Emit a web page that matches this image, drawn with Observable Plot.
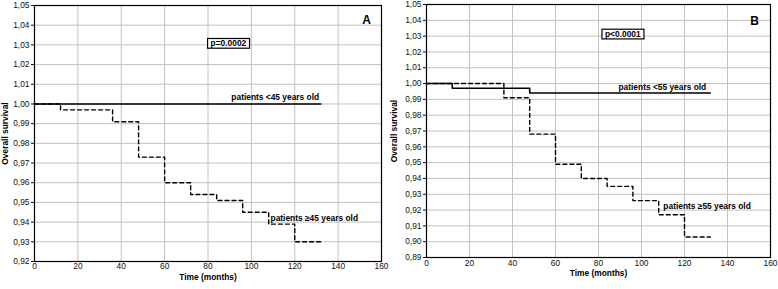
<!DOCTYPE html>
<html><head><meta charset="utf-8">
<script src="https://cdn.jsdelivr.net/npm/d3@7"></script>
<script src="https://cdn.jsdelivr.net/npm/@observablehq/plot@0.6"></script>
<style>
body{margin:0;background:#fff}
#wrap{display:flex;width:778px;height:289px;overflow:hidden}
#wrap svg{display:block}
</style></head><body><div id="wrap"></div>
<script>
// ---- axes ticks ----
const xTicks = [0, 20, 40, 60, 80, 100, 120, 140, 160];
const yTicksA = [0.92, 0.93, 0.94, 0.95, 0.96, 0.97, 0.98, 0.99, 1.00, 1.01, 1.02, 1.03, 1.04, 1.05];
const yTicksB = [0.89, 0.90, 0.91, 0.92, 0.93, 0.94, 0.95, 0.96, 0.97, 0.98, 0.99, 1.00, 1.01, 1.02, 1.03, 1.04, 1.05];

// ---- panel A: age 45 ----
const timeA_young = [0, 132];
const survA_young = [1.000, 1.000];
const timeA_old = [0, 12, 36, 48, 60, 72, 84, 96, 108, 120, 132];
const survA_old = [1.000, 0.997, 0.991, 0.973, 0.960, 0.954, 0.951, 0.945, 0.939, 0.930, 0.930];
const labelsA = ["patients <45 years old", "patients \u226545 years old"];
const labelXA = [111, 129];
const labelYA = [1.0033, 0.942];
const pTextA = "p=0.0002";

// ---- panel B: age 55 ----
const timeB_young = [0, 12, 48, 132];
const survB_young = [1.000, 0.997, 0.994, 0.994];
const timeB_old = [0, 36, 48, 60, 72, 84, 96, 108, 120, 132];
const survB_old = [1.000, 0.991, 0.968, 0.949, 0.940, 0.935, 0.926, 0.917, 0.903, 0.903];
const labelsB = ["patients <55 years old", "patients \u226555 years old"];
const labelXB = [109.7, 130.5];
const labelYB = [0.9975, 0.9224];
const pTextB = "p<0.0001";

const FONT = "'Liberation Sans', Arial, sans-serif";
const FS = 8.4;
const fmt = d => d.toFixed(2).replace(".", ",");

function panel(o) {
  return Plot.plot({
    width: o.width, height: 289,
    marginLeft: o.ml, marginRight: o.mr, marginTop: o.mt, marginBottom: o.mb,
    style: {fontFamily: FONT, fontSize: FS + "px", color: "#111", background: "#fff", overflow: "visible"},
    x: {domain: [0, 160], label: null},
    y: {domain: o.yDomain, label: null},
    marks: [
      Plot.gridX(xTicks, {stroke: "#c2c2c2", strokeOpacity: 1}),
      Plot.gridY(o.yTicks, {stroke: "#c2c2c2", strokeOpacity: 1}),
      Plot.axisX(xTicks, {tickSize: 0, tickPadding: o.xPad, label: null, tickFormat: d => String(d), fontSize: FS}),
      Plot.axisY(o.yTicks, {tickSize: 3, tickPadding: 2, tickFormat: fmt, label: null, fontSize: FS}),
      Plot.line(o.timeOld, {x: o.timeOld, y: o.survOld, curve: "step-after", stroke: "#000", strokeWidth: 1.4, strokeDasharray: "4,3"}),
      Plot.line(o.timeYoung, {x: o.timeYoung, y: o.survYoung, curve: "step-after", stroke: "#000", strokeWidth: 1.6}),
      Plot.text(o.labels, {x: o.labelX, y: o.labelY, fontWeight: "bold", fontSize: FS, fill: "#000"}),
      Plot.text([o.pText], {x: [o.pX], y: [o.pY], fontWeight: "bold", fontSize: FS, fill: "#000"}),
      Plot.text([o.letter], {frameAnchor: "top-right", dx: o.letDx, dy: o.letDy, fontSize: 12, fontWeight: "bold", textAnchor: "middle", lineAnchor: "middle", fill: "#000"}),
      Plot.text(["Time (months)"], {frameAnchor: "bottom", dy: o.xtDy, lineAnchor: "middle", fontWeight: "bold", fontSize: FS, fill: "#000"}),
      Plot.text(["Overall survival"], {frameAnchor: "left", dx: o.ytDx, rotate: -90, lineAnchor: "middle", textAnchor: "middle", fontWeight: "bold", fontSize: FS, fill: "#000"}),
      Plot.frame({stroke: "#000", strokeWidth: 1.2})
    ]
  });
}

function addBox(svg, str) {
  for (const t of svg.querySelectorAll("text")) {
    if (t.textContent === str) {
      const b = t.getBBox();
      const r = document.createElementNS("http://www.w3.org/2000/svg", "rect");
      r.setAttribute("x", b.x - 3);
      r.setAttribute("y", b.y + 0.3);
      r.setAttribute("width", b.width + 6);
      r.setAttribute("height", b.height - 0.3);
      r.setAttribute("fill", "#fff");
      r.setAttribute("stroke", "#000");
      r.setAttribute("stroke-width", 1.2);
      const tr = t.getAttribute("transform");
      if (tr) r.setAttribute("transform", tr);
      t.parentNode.insertBefore(r, t);
    }
  }
}

const wrap = document.getElementById("wrap");
const svgA = panel({
  width: 389, ml: 34, mr: 8, mt: 5, mb: 28, xPad: 2, xtDy: 15.5, ytDx: -29.5, letDx: -15, letDy: 15,
  yDomain: [0.92, 1.05], yTicks: yTicksA,
  timeOld: timeA_old, survOld: survA_old, timeYoung: timeA_young, survYoung: survA_young,
  labels: labelsA, labelX: labelXA, labelY: labelYA,
  pText: pTextA, pX: 89.4, pY: 1.0307, letter: "A"
});
const svgB = panel({
  width: 389, ml: 37, mr: 8, mt: 4, mb: 32, xPad: 3, xtDy: 16, ytDx: -32, letDx: -16, letDy: 16.5,
  yDomain: [0.89, 1.05], yTicks: yTicksB,
  timeOld: timeB_old, survOld: survB_old, timeYoung: timeB_young, survYoung: survB_young,
  labels: labelsB, labelX: labelXB, labelY: labelYB,
  pText: pTextB, pX: 91.3, pY: 1.0312, letter: "B"
});
wrap.appendChild(svgA);
wrap.appendChild(svgB);
addBox(svgA, pTextA);
addBox(svgB, pTextB);
</script>
</body></html>
